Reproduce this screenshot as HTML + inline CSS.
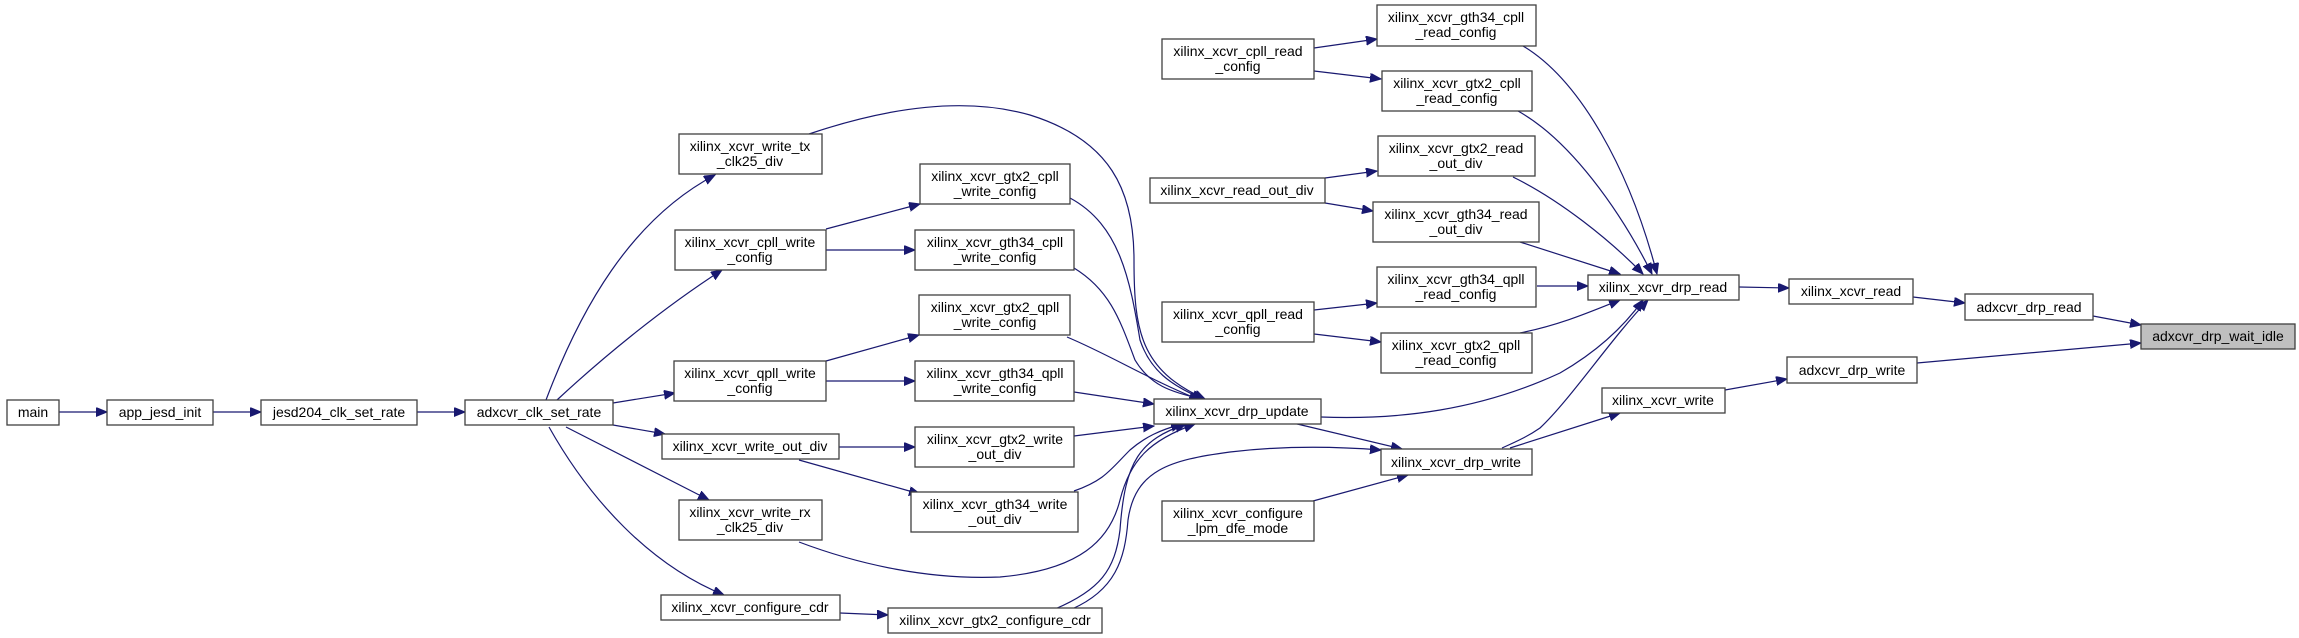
<!DOCTYPE html>
<html><head><meta charset="utf-8"><style>
html,body{margin:0;padding:0;background:#fff}
svg{display:block}
text{font-family:"Liberation Sans",sans-serif;font-size:14px;fill:#000}
.b{fill:#fff;stroke:#404040;stroke-width:1.3}
.e{fill:none;stroke:#191970;stroke-width:1.2}
</style></head><body>
<svg width="2299" height="638" viewBox="0 0 2299 638" xmlns="http://www.w3.org/2000/svg">
<defs>
<marker id="a" markerUnits="userSpaceOnUse" markerWidth="12" markerHeight="10" refX="11" refY="4.5" orient="auto">
<path d="M0,0 L11,4.5 L0,9 Z" fill="#191970" stroke="#191970"/>
</marker>
</defs>
<g class="e" marker-end="url(#a)">
<path d="M59,412 L107,412"/>
<path d="M213,412 L261,412"/>
<path d="M417,412 L465,412"/>
<path d="M546,400 C580,310 630,220 715,175"/>
<path d="M557,400 C600,360 660,310 722,270"/>
<path d="M613,403 L675,393"/>
<path d="M613,425 L665,434"/>
<path d="M566,427 L709,500"/>
<path d="M549,427 C590,500 650,565 724,595"/>
<path d="M826,229 L920,204"/>
<path d="M826,250 L915,250"/>
<path d="M826,361 L919,335"/>
<path d="M826,381 L915,381"/>
<path d="M838,447 L915,447"/>
<path d="M799,460 L920,494"/>
<path d="M840,613 L888,615"/>
<path d="M809,134 C880,110 960,95 1030,115 C1110,140 1134,190 1134,260 C1134,330 1140,370 1205,399"/>
<path d="M1070,198 C1120,225 1130,280 1140,340 C1150,370 1170,385 1203,399"/>
<path d="M1074,268 C1110,290 1120,320 1135,360 C1150,385 1170,392 1202,399"/>
<path d="M1067,337 C1110,355 1150,380 1200,400"/>
<path d="M1074,392 L1154,404"/>
<path d="M1074,436 L1154,426"/>
<path d="M1074,491 C1105,480 1110,470 1130,450 C1145,437 1160,430 1182,424"/>
<path d="M799,542 C860,565 930,580 1000,577 C1080,570 1110,540 1120,500 C1130,460 1150,440 1195,424"/>
<path d="M1055,609 C1100,590 1115,570 1120,530 C1125,460 1140,440 1186,424"/>
<path d="M1072,609 C1115,590 1125,560 1128,520 C1135,470 1170,460 1230,452 C1280,446 1330,446 1381,450"/>
<path d="M1293,423 L1402,449"/>
<path d="M1313,501 L1408,475"/>
<path d="M1314,48 L1377,39"/>
<path d="M1314,71 L1381,79"/>
<path d="M1325,178 L1377,171"/>
<path d="M1325,203 L1373,211"/>
<path d="M1314,310 L1377,303"/>
<path d="M1314,334 L1381,342"/>
<path d="M1523,46 C1580,80 1630,170 1657,274"/>
<path d="M1518,111 C1570,140 1620,210 1652,274"/>
<path d="M1513,177 C1560,200 1610,240 1643,274"/>
<path d="M1520,242 L1620,274"/>
<path d="M1537,286 L1588,286"/>
<path d="M1520,333 C1560,325 1590,312 1620,300"/>
<path d="M1321,417 C1400,420 1480,410 1560,373 C1600,350 1625,325 1643,300"/>
<path d="M1502,448 C1520,440 1530,435 1540,428 C1570,400 1610,340 1648,300"/>
<path d="M1510,448 L1620,413"/>
<path d="M1739,287 L1789,288"/>
<path d="M1913,297 L1965,303"/>
<path d="M2093,316 L2141,325"/>
<path d="M1917,363 L2141,343"/>
<path d="M1725,390 L1787,379"/>
</g>
<g>
<rect class="b" x="7" y="400" width="52" height="25"/><text x="33" y="417" text-anchor="middle">main</text>
<rect class="b" x="107" y="400" width="106" height="25"/><text x="160" y="417" text-anchor="middle">app_jesd_init</text>
<rect class="b" x="261" y="400" width="156" height="25"/><text x="339" y="417" text-anchor="middle">jesd204_clk_set_rate</text>
<rect class="b" x="465" y="400" width="148" height="25"/><text x="539" y="417" text-anchor="middle">adxcvr_clk_set_rate</text>

<rect class="b" x="679" y="134" width="143" height="40"/><text x="750" y="151" text-anchor="middle">xilinx_xcvr_write_tx</text><text x="750" y="166" text-anchor="middle">_clk25_div</text>
<rect class="b" x="675" y="230" width="151" height="40"/><text x="750" y="247" text-anchor="middle">xilinx_xcvr_cpll_write</text><text x="750" y="262" text-anchor="middle">_config</text>
<rect class="b" x="674" y="361" width="152" height="40"/><text x="750" y="378" text-anchor="middle">xilinx_xcvr_qpll_write</text><text x="750" y="393" text-anchor="middle">_config</text>
<rect class="b" x="662" y="434" width="177" height="25"/><text x="750" y="451" text-anchor="middle">xilinx_xcvr_write_out_div</text>
<rect class="b" x="679" y="500" width="143" height="40"/><text x="750" y="517" text-anchor="middle">xilinx_xcvr_write_rx</text><text x="750" y="532" text-anchor="middle">_clk25_div</text>
<rect class="b" x="661" y="595" width="179" height="25"/><text x="750" y="612" text-anchor="middle">xilinx_xcvr_configure_cdr</text>

<rect class="b" x="920" y="164" width="150" height="40"/><text x="995" y="181" text-anchor="middle">xilinx_xcvr_gtx2_cpll</text><text x="995" y="196" text-anchor="middle">_write_config</text>
<rect class="b" x="915" y="230" width="159" height="40"/><text x="995" y="247" text-anchor="middle">xilinx_xcvr_gth34_cpll</text><text x="995" y="262" text-anchor="middle">_write_config</text>
<rect class="b" x="919" y="295" width="151" height="40"/><text x="995" y="312" text-anchor="middle">xilinx_xcvr_gtx2_qpll</text><text x="995" y="327" text-anchor="middle">_write_config</text>
<rect class="b" x="915" y="361" width="159" height="40"/><text x="995" y="378" text-anchor="middle">xilinx_xcvr_gth34_qpll</text><text x="995" y="393" text-anchor="middle">_write_config</text>
<rect class="b" x="915" y="427" width="159" height="40"/><text x="995" y="444" text-anchor="middle">xilinx_xcvr_gtx2_write</text><text x="995" y="459" text-anchor="middle">_out_div</text>
<rect class="b" x="911" y="492" width="167" height="40"/><text x="995" y="509" text-anchor="middle">xilinx_xcvr_gth34_write</text><text x="995" y="524" text-anchor="middle">_out_div</text>
<rect class="b" x="888" y="608" width="214" height="25"/><text x="995" y="625" text-anchor="middle">xilinx_xcvr_gtx2_configure_cdr</text>

<rect class="b" x="1154" y="399" width="167" height="25"/><text x="1237" y="416" text-anchor="middle">xilinx_xcvr_drp_update</text>
<rect class="b" x="1162" y="39" width="152" height="40"/><text x="1238" y="56" text-anchor="middle">xilinx_xcvr_cpll_read</text><text x="1238" y="71" text-anchor="middle">_config</text>
<rect class="b" x="1150" y="178" width="175" height="25"/><text x="1237" y="195" text-anchor="middle">xilinx_xcvr_read_out_div</text>
<rect class="b" x="1162" y="302" width="152" height="40"/><text x="1238" y="319" text-anchor="middle">xilinx_xcvr_qpll_read</text><text x="1238" y="334" text-anchor="middle">_config</text>
<rect class="b" x="1162" y="501" width="152" height="40"/><text x="1238" y="518" text-anchor="middle">xilinx_xcvr_configure</text><text x="1238" y="533" text-anchor="middle">_lpm_dfe_mode</text>

<rect class="b" x="1377" y="5" width="159" height="41"/><text x="1456" y="22" text-anchor="middle">xilinx_xcvr_gth34_cpll</text><text x="1456" y="37" text-anchor="middle">_read_config</text>
<rect class="b" x="1382" y="71" width="150" height="40"/><text x="1457" y="88" text-anchor="middle">xilinx_xcvr_gtx2_cpll</text><text x="1457" y="103" text-anchor="middle">_read_config</text>
<rect class="b" x="1378" y="136" width="157" height="40"/><text x="1456" y="153" text-anchor="middle">xilinx_xcvr_gtx2_read</text><text x="1456" y="168" text-anchor="middle">_out_div</text>
<rect class="b" x="1373" y="202" width="166" height="40"/><text x="1456" y="219" text-anchor="middle">xilinx_xcvr_gth34_read</text><text x="1456" y="234" text-anchor="middle">_out_div</text>
<rect class="b" x="1377" y="267" width="159" height="40"/><text x="1456" y="284" text-anchor="middle">xilinx_xcvr_gth34_qpll</text><text x="1456" y="299" text-anchor="middle">_read_config</text>
<rect class="b" x="1381" y="333" width="151" height="40"/><text x="1456" y="350" text-anchor="middle">xilinx_xcvr_gtx2_qpll</text><text x="1456" y="365" text-anchor="middle">_read_config</text>
<rect class="b" x="1381" y="449" width="151" height="26"/><text x="1456" y="467" text-anchor="middle">xilinx_xcvr_drp_write</text>

<rect class="b" x="1588" y="275" width="151" height="25"/><text x="1663" y="292" text-anchor="middle">xilinx_xcvr_drp_read</text>
<rect class="b" x="1789" y="279" width="124" height="25"/><text x="1851" y="296" text-anchor="middle">xilinx_xcvr_read</text>
<rect class="b" x="1965" y="294" width="128" height="26"/><text x="2029" y="312" text-anchor="middle">adxcvr_drp_read</text>
<rect x="2141" y="324" width="154" height="25" fill="#bfbfbf" stroke="#404040" stroke-width="1.3"/><text x="2218" y="341" text-anchor="middle">adxcvr_drp_wait_idle</text>
<rect class="b" x="1787" y="357" width="130" height="26"/><text x="1852" y="375" text-anchor="middle">adxcvr_drp_write</text>
<rect class="b" x="1602" y="388" width="123" height="25"/><text x="1663" y="405" text-anchor="middle">xilinx_xcvr_write</text>
</g>
</svg>
</body></html>
